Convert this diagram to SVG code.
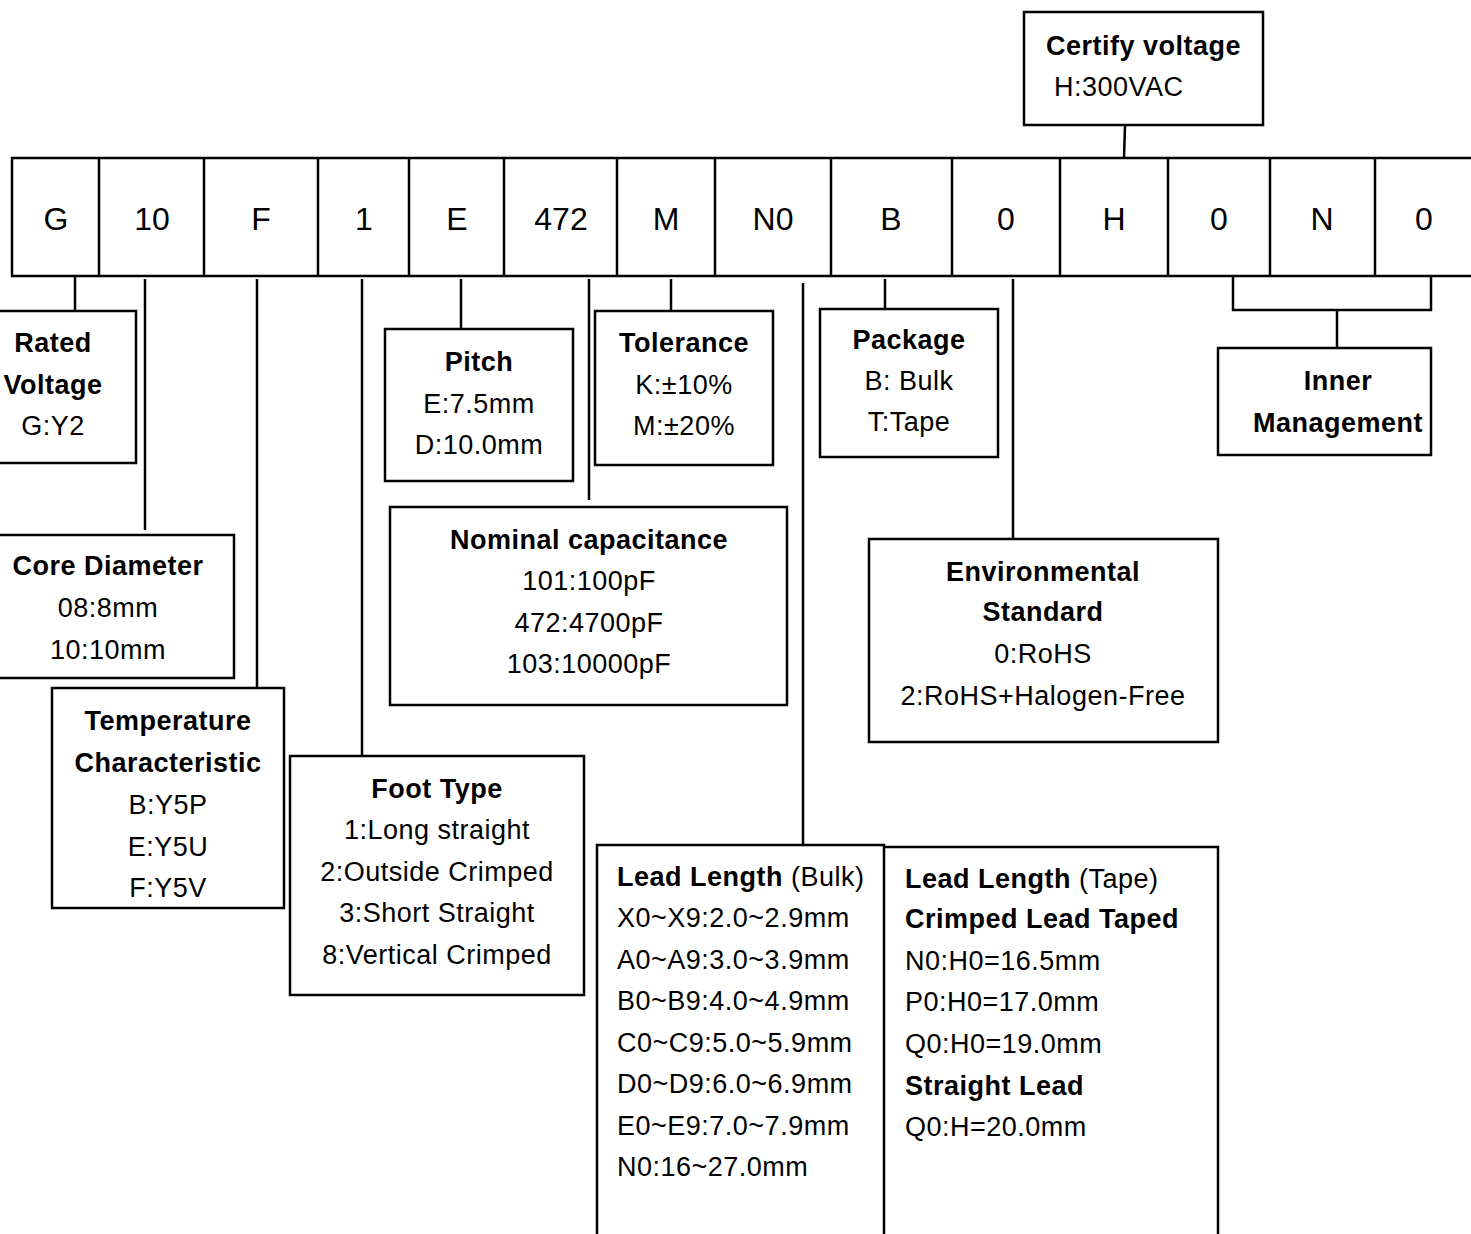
<svg xmlns="http://www.w3.org/2000/svg" width="1471" height="1234" viewBox="0 0 1471 1234">
<style>
.b{fill:#fff;stroke:#000;stroke-width:2.5}
.l{fill:none;stroke:#000;stroke-width:2.5}
text{font-family:"Liberation Sans",Arial,sans-serif;font-size:27px;letter-spacing:0.5px;fill:#000}
.c{text-anchor:middle}
.h{font-weight:bold}
.cell{font-size:32px;letter-spacing:0;text-anchor:middle}
</style>
<rect width="1471" height="1234" fill="#fff"/>
<g id="connectors">
<line class="l" x1="1125" y1="125" x2="1124" y2="158"/>
<line class="l" x1="75" y1="276" x2="75" y2="311"/>
<line class="l" x1="145" y1="279" x2="145" y2="530"/>
<line class="l" x1="257" y1="279" x2="257" y2="688"/>
<line class="l" x1="362" y1="279" x2="362" y2="756"/>
<line class="l" x1="461" y1="279" x2="461" y2="329"/>
<line class="l" x1="589" y1="279" x2="589" y2="500"/>
<line class="l" x1="671" y1="279" x2="671" y2="311"/>
<line class="l" x1="803" y1="283" x2="803" y2="845"/>
<line class="l" x1="885" y1="279" x2="885" y2="309"/>
<line class="l" x1="1013" y1="279" x2="1013" y2="539"/>
<polyline class="l" points="1233,276 1233,310 1431,310 1431,276"/>
<line class="l" x1="1337" y1="310" x2="1337" y2="348"/>
</g>
<g id="code-strip">
<polyline class="l" points="1471,158 12,158 12,276 1471,276"/>
<line class="l" x1="99" y1="158" x2="99" y2="276"/>
<line class="l" x1="204" y1="158" x2="204" y2="276"/>
<line class="l" x1="318" y1="158" x2="318" y2="276"/>
<line class="l" x1="409" y1="158" x2="409" y2="276"/>
<line class="l" x1="504" y1="158" x2="504" y2="276"/>
<line class="l" x1="617" y1="158" x2="617" y2="276"/>
<line class="l" x1="715" y1="158" x2="715" y2="276"/>
<line class="l" x1="831" y1="158" x2="831" y2="276"/>
<line class="l" x1="952" y1="158" x2="952" y2="276"/>
<line class="l" x1="1060" y1="158" x2="1060" y2="276"/>
<line class="l" x1="1168" y1="158" x2="1168" y2="276"/>
<line class="l" x1="1270" y1="158" x2="1270" y2="276"/>
<line class="l" x1="1375" y1="158" x2="1375" y2="276"/>
<text class="cell" x="56" y="230">G</text>
<text class="cell" x="152" y="230">10</text>
<text class="cell" x="261" y="230">F</text>
<text class="cell" x="364" y="230">1</text>
<text class="cell" x="457" y="230">E</text>
<text class="cell" x="561" y="230">472</text>
<text class="cell" x="666" y="230">M</text>
<text class="cell" x="773" y="230">N0</text>
<text class="cell" x="891" y="230">B</text>
<text class="cell" x="1006" y="230">0</text>
<text class="cell" x="1114" y="230">H</text>
<text class="cell" x="1219" y="230">0</text>
<text class="cell" x="1322" y="230">N</text>
<text class="cell" x="1424" y="230">0</text>
</g>
<g id="certify-voltage">
<rect class="b" x="1024" y="12" width="239" height="113"/>
<text class="h" x="1046" y="55">Certify voltage</text>
<text x="1054" y="96">H:300VAC</text>
</g>
<g id="rated-voltage">
<rect class="b" x="-5" y="311" width="141" height="152"/>
<text class="c h" x="53" y="352">Rated</text>
<text class="c h" x="53" y="394">Voltage</text>
<text class="c" x="53" y="435">G:Y2</text>
</g>
<g id="core-diameter">
<rect class="b" x="-5" y="535" width="239" height="143"/>
<text class="c h" x="108" y="575">Core Diameter</text>
<text class="c" x="108" y="617">08:8mm</text>
<text class="c" x="108" y="659">10:10mm</text>
</g>
<g id="temperature">
<rect class="b" x="52" y="688" width="232" height="220"/>
<text class="c h" x="168" y="730">Temperature</text>
<text class="c h" x="168" y="772">Characteristic</text>
<text class="c" x="168" y="814">B:Y5P</text>
<text class="c" x="168" y="856">E:Y5U</text>
<text class="c" x="168" y="897">F:Y5V</text>
</g>
<g id="foot-type">
<rect class="b" x="290" y="756" width="294" height="239"/>
<text class="c h" x="437" y="798">Foot Type</text>
<text class="c" x="437" y="839">1:Long straight</text>
<text class="c" x="437" y="881">2:Outside Crimped</text>
<text class="c" x="437" y="922">3:Short Straight</text>
<text class="c" x="437" y="964">8:Vertical Crimped</text>
</g>
<g id="pitch">
<rect class="b" x="385" y="329" width="188" height="152"/>
<text class="c h" x="479" y="371">Pitch</text>
<text class="c" x="479" y="413">E:7.5mm</text>
<text class="c" x="479" y="454">D:10.0mm</text>
</g>
<g id="tolerance">
<rect class="b" x="595" y="311" width="178" height="154"/>
<text class="c h" x="684" y="352">Tolerance</text>
<text class="c" x="684" y="394">K:±10%</text>
<text class="c" x="684" y="435">M:±20%</text>
</g>
<g id="nominal-capacitance">
<rect class="b" x="390" y="507" width="397" height="198"/>
<text class="c h" x="589" y="549">Nominal capacitance</text>
<text class="c" x="589" y="590">101:100pF</text>
<text class="c" x="589" y="632">472:4700pF</text>
<text class="c" x="589" y="673">103:10000pF</text>
</g>
<g id="package">
<rect class="b" x="820" y="309" width="178" height="148"/>
<text class="c h" x="909" y="349">Package</text>
<text class="c" x="909" y="390">B: Bulk</text>
<text class="c" x="909" y="431">T:Tape</text>
</g>
<g id="inner-management">
<rect class="b" x="1218" y="348" width="213" height="107"/>
<text class="c h" x="1338" y="390">Inner</text>
<text class="c h" x="1338" y="432">Management</text>
</g>
<g id="environmental-standard">
<rect class="b" x="869" y="539" width="349" height="203"/>
<text class="c h" x="1043" y="581">Environmental</text>
<text class="c h" x="1043" y="621">Standard</text>
<text class="c" x="1043" y="663">0:RoHS</text>
<text class="c" x="1043" y="705">2:RoHS+Halogen-Free</text>
</g>
<g id="lead-length-bulk">
<polyline class="l" points="597,1240 597,845 884,845 884,1240"/>
<text x="617" y="886"><tspan class="h">Lead Length</tspan> (Bulk)</text>
<text x="617" y="927">X0~X9:2.0~2.9mm</text>
<text x="617" y="969">A0~A9:3.0~3.9mm</text>
<text x="617" y="1010">B0~B9:4.0~4.9mm</text>
<text x="617" y="1052">C0~C9:5.0~5.9mm</text>
<text x="617" y="1093">D0~D9:6.0~6.9mm</text>
<text x="617" y="1135">E0~E9:7.0~7.9mm</text>
<text x="617" y="1176">N0:16~27.0mm</text>
</g>
<g id="lead-length-tape">
<polyline class="l" points="884,847 1218,847 1218,1240"/>
<text x="905" y="888"><tspan class="h">Lead Length</tspan> (Tape)</text>
<text class="h" x="905" y="928">Crimped Lead Taped</text>
<text x="905" y="970">N0:H0=16.5mm</text>
<text x="905" y="1011">P0:H0=17.0mm</text>
<text x="905" y="1053">Q0:H0=19.0mm</text>
<text class="h" x="905" y="1095">Straight Lead</text>
<text x="905" y="1136">Q0:H=20.0mm</text>
</g>
</svg>
